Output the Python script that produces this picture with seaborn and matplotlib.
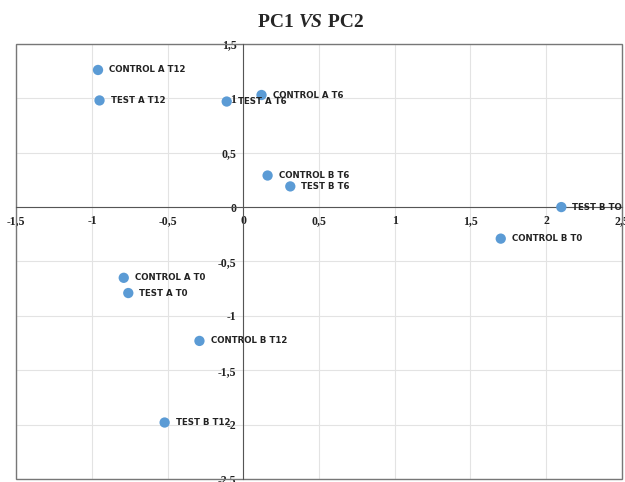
import pandas as pd
import seaborn as sns
import matplotlib.pyplot as plt
from matplotlib.patches import Rectangle
from matplotlib.ticker import FuncFormatter, MultipleLocator

# Sample labels and PCA scores
samples = ['CONTROL A T12', 'TEST A T12', 'TEST A T6', 'CONTROL A T6',
           'CONTROL B T6', 'TEST B T6', 'TEST B TO', 'CONTROL B T0',
           'CONTROL A T0', 'TEST A T0', 'CONTROL B T12', 'TEST B T12']
pc1 = [-0.96, -0.95, -0.11, 0.12, 0.16, 0.31, 2.10, 1.70, -0.79, -0.76, -0.29, -0.52]
pc2 = [1.26, 0.98, 0.97, 1.03, 0.29, 0.19, 0.00, -0.29, -0.65, -0.79, -1.23, -1.98]

df = pd.DataFrame({'sample': samples, 'PC1': pc1, 'PC2': pc2})

sns.set_style("white")

fig = plt.figure(figsize=(6.25, 4.82), dpi=100)
ax = fig.add_axes([0.026, 0.006, 0.969, 0.903])

sns.scatterplot(data=df, x='PC1', y='PC2', ax=ax, color='#5b9bd5',
                s=55, edgecolor='none', zorder=3)

for _, r in df.iterrows():
    ax.annotate(r['sample'], (r['PC1'], r['PC2']), xytext=(8, 0),
                textcoords='offset points', va='center', ha='left',
                fontsize=6.2, fontweight='bold', color='#222222', zorder=4)

ax.set_xlim(-1.5, 2.5)
ax.set_ylim(-2.5, 1.5)
ax.xaxis.set_major_locator(MultipleLocator(0.5))
ax.yaxis.set_major_locator(MultipleLocator(0.5))
comma = FuncFormatter(lambda v, p: f"{v:g}".replace('.', ',') if abs(v) > 1e-9 else '0')
ax.xaxis.set_major_formatter(comma)
ax.yaxis.set_major_formatter(comma)
ax.grid(True, color='#e3e3e3', linewidth=0.8, zorder=0)

# axes cross at the origin
for side in ['top', 'right']:
    ax.spines[side].set_visible(False)
ax.spines['left'].set_position(('data', 0))
ax.spines['bottom'].set_position(('data', 0))
ax.spines['left'].set_color('#555555')
ax.spines['bottom'].set_color('#555555')
ax.spines['left'].set_zorder(2)
ax.spines['bottom'].set_zorder(2)
ax.add_patch(Rectangle((0, 0), 1, 1, transform=ax.transAxes, fill=False,
                       edgecolor='#777777', linewidth=1, clip_on=False, zorder=2))
ax.tick_params(axis='x', length=0, pad=6)
ax.tick_params(axis='y', length=0, pad=5)
for lab in ax.get_xticklabels() + ax.get_yticklabels():
    lab.set_fontfamily('Liberation Serif')
    lab.set_fontweight('bold')
    lab.set_fontsize(8.5)
    lab.set_color('#222222')
ax.set_xlabel('')
ax.set_ylabel('')

# title with italic middle word
vs = fig.text(0.497, 0.945, 'VS', ha='center', va='baseline', fontsize=14,
              fontfamily='Liberation Serif', fontweight='bold', fontstyle='italic')
ax.annotate('PC1 ', xy=(0, 0), xycoords=vs, ha='right', va='bottom',
            fontsize=14, fontfamily='Liberation Serif', fontweight='bold',
            annotation_clip=False)
ax.annotate(' PC2', xy=(1, 0), xycoords=vs, ha='left', va='bottom',
            fontsize=14, fontfamily='Liberation Serif', fontweight='bold',
            annotation_clip=False)

plt.savefig('out.png', dpi=100)
